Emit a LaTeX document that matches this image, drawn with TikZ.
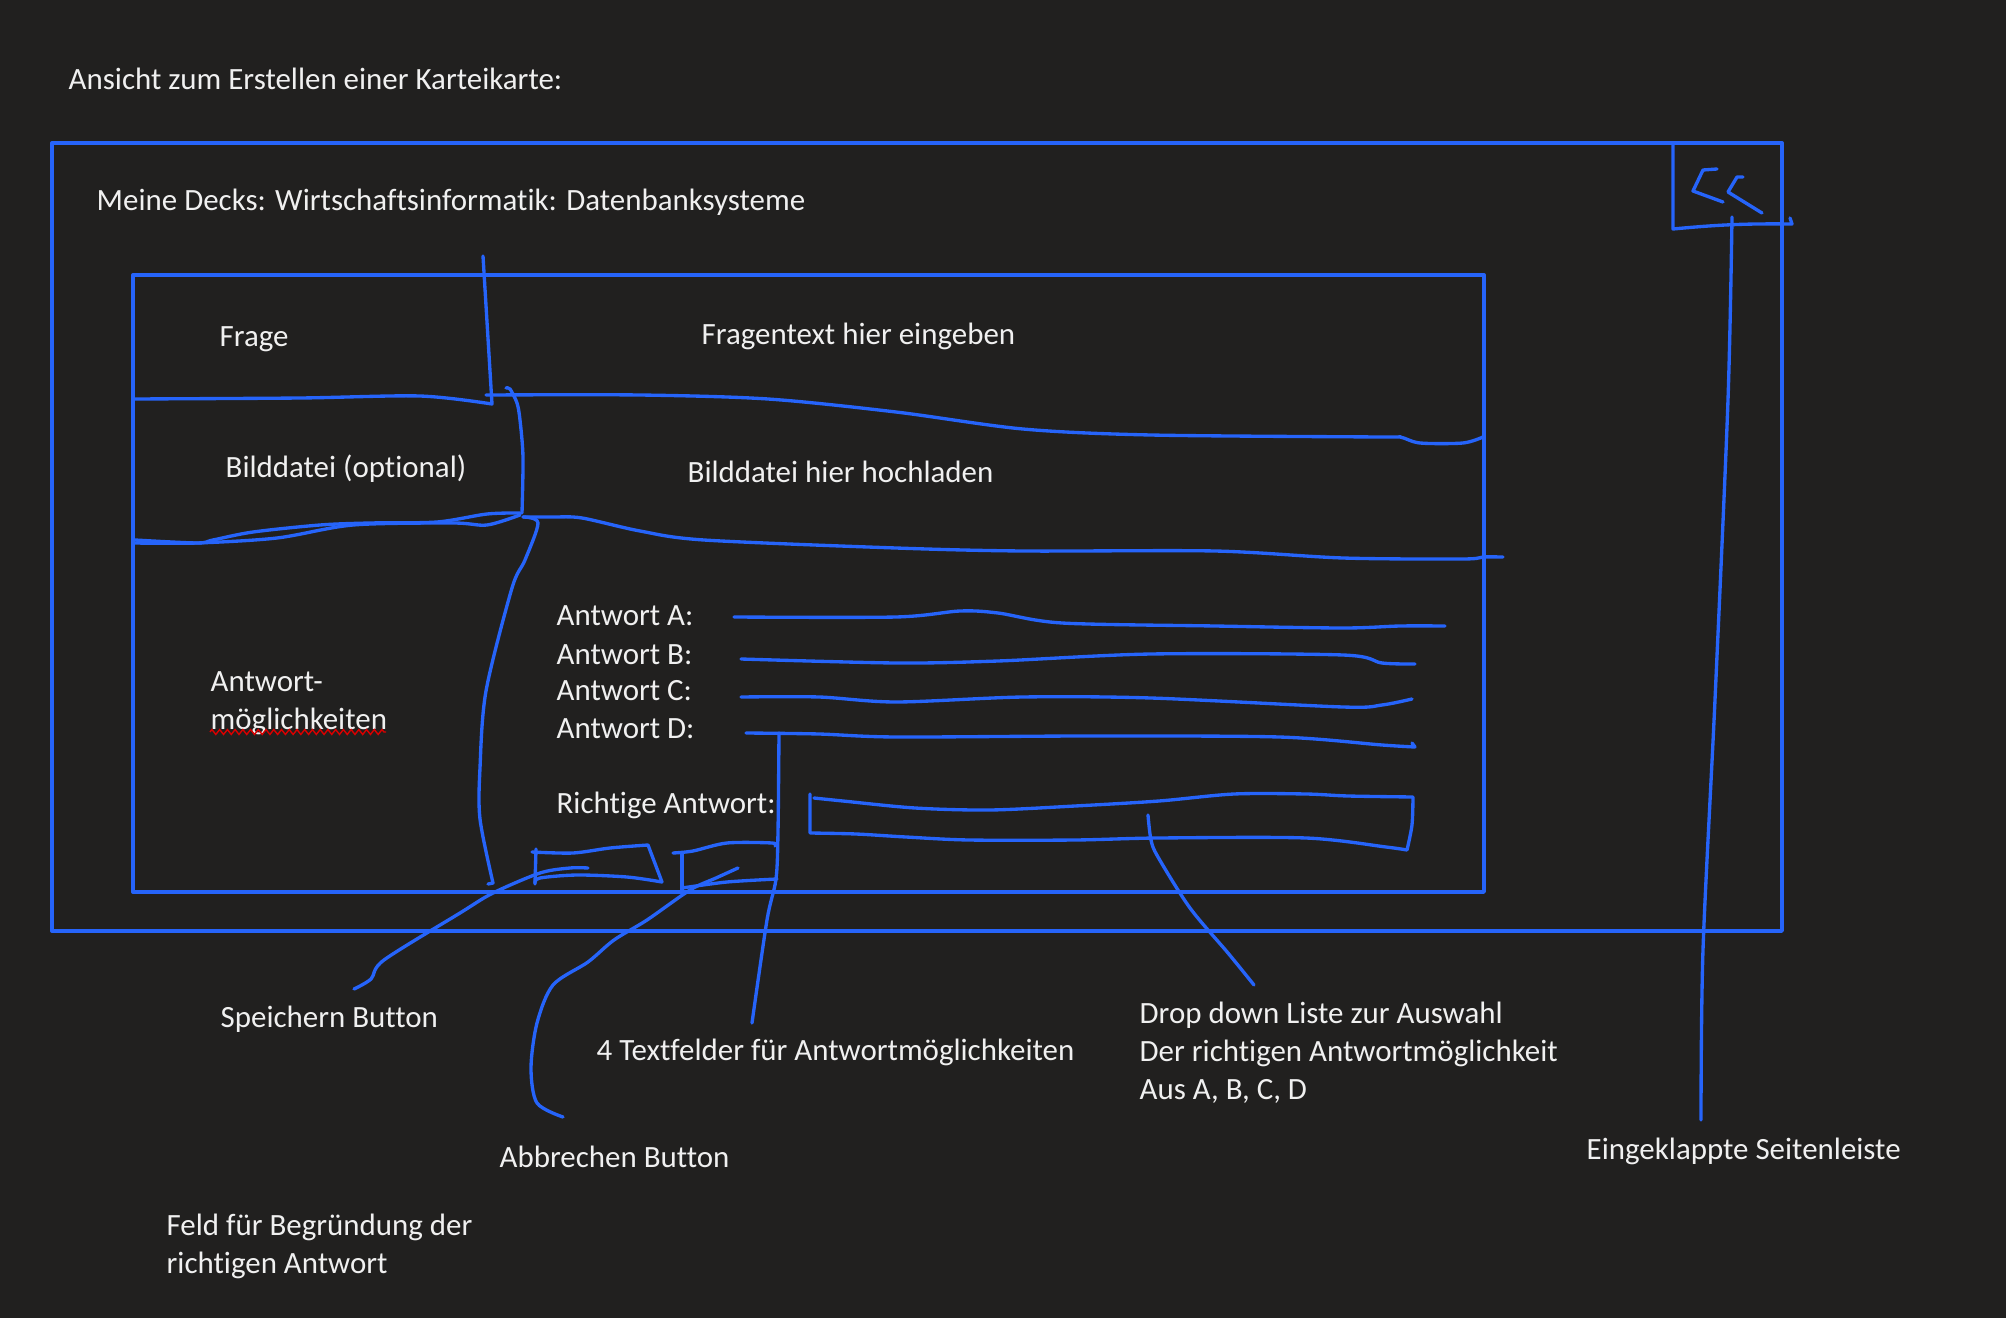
\documentclass[tikz,border=0pt]{standalone}
\usepackage{fontspec}
\setmainfont[Ligatures=NoCommon]{Carlito}
\usetikzlibrary{decorations.pathmorphing}
\definecolor{board}{RGB}{33,32,31}
\definecolor{penblue}{RGB}{38,100,250}
\definecolor{chalk}{RGB}{240,240,240}
\tikzstyle{pen} = [draw=penblue, line width=0.95pt, line cap=round, line join=round]
\tikzstyle{txt} = [text=chalk, anchor=base west, inner sep=0pt, align=left, font=\fontsize{8.8}{10.8}\selectfont]

\begin{document}
\begin{tikzpicture}[x=0.1mm, y=-0.1mm]

	% Background
	\fill[board] (0,0) rectangle (2006,1318);
	\useasboundingbox (0,0) rectangle (2006,1318);

	% Place nodes (multi-line ones sit on their last line)
	\node [txt] (Title)     at (68,89)    {Ansicht zum Erstellen einer Karteikarte:};
	\node [txt] (Path)      at (96,211)   {Meine Decks: Wirtschaftsinformatik: Datenbanksysteme};
	\node [txt] (Frage)     at (219,346)  {Frage};
	\node [txt] (FrageIn)   at (701,344)  {Fragentext hier eingeben};
	\node [txt] (Bild)      at (225,477)  {Bilddatei (optional)};
	\node [txt] (BildIn)    at (687,482)  {Bilddatei hier hochladen};
	\node [txt] (Antwort)   at (210,729)  {Antwort-\\möglichkeiten};
	\node [txt] (A)         at (556,625)  {Antwort A:};
	\node [txt] (B)         at (556,664)  {Antwort B:};
	\node [txt] (C)         at (556,700)  {Antwort C:};
	\node [txt] (D)         at (556,738)  {Antwort D:};
	\node [txt] (Richtig)   at (556,813)  {Richtige Antwort:};
	\node [txt] (Save)      at (220,1027) {Speichern Button};
	\node [txt] (Fields)    at (596,1060) {4 Textfelder für Antwortmöglichkeiten};
	\node [txt] (Drop)      at (1139,1099) {Drop down Liste zur Auswahl\\Der richtigen Antwortmöglichkeit\\Aus A, B, C, D};
	\node [txt] (Cancel)    at (499,1167) {Abbrechen Button};
	\node [txt] (Sidebar)   at (1586,1159) {Eingeklappte Seitenleiste};
	\node [txt] (Reason)    at (166,1273) {Feld für Begründung der\\richtigen Antwort};

	% spell check squiggle
	\draw[red!85!black, line width=0.4pt, decorate, decoration={zigzag, amplitude=0.7pt, segment length=2.2pt}]
		(210,732) -- (386,732);

	% Frames
	\path [pen] (52,143) rectangle (1782,931);
	\path [pen] (133,275) rectangle (1484,892);
	\path [pen] (1673,144) -- (1673,229) to[bend left=3] (1792,224) -- (1790,218);
	\path [pen] (1717,169) -- (1703,170) -- (1693,191) -- (1723,202);
	\path [pen] (1743,177) -- (1737,177) -- (1728,192) -- (1762,213);

	% Rows
	\path [pen] plot[smooth] coordinates {(133,399) (300,398) (420,396) (492,404)} -- (483,256);
	\path [pen] plot[smooth] coordinates {(486,395) (640,395) (768,399) (896,412) (1023,429) (1151,435) (1380,437) (1400,437) (1420,443) (1463,443) (1483,437)};
	\path [pen] plot[smooth] coordinates {(506,388) (510,389) (517,403) (520,420) (523,457) (522,513)};
	\path [pen] plot[smooth] coordinates {(135,540) (197,543) (213,540) (253,532) (320,525) (370,523) (437,522) (487,514) (520,513)};
	\path [pen] plot[smooth] coordinates {(135,543) (197,543) (277,538) (353,525) (453,523) (487,525) (520,515)};
	\path [pen] plot[smooth] coordinates {(523,517) (553,517) (582,518) (640,531) (704,540) (896,548) (1023,551) (1215,551) (1343,558) (1463,559) (1483,557) (1503,557)};
	\path [pen] plot[smooth] coordinates {(523,517) (538,523) (525,560) (512,588) (486,691) (480,768) (480,819) (493,883)} -- (488,884);

	% Answer fields
	\path [pen] plot[smooth] coordinates {(734,617) (896,617) (960,611) (998,613) (1062,623) (1215,626) (1343,628) (1400,626) (1445,626)};
	\path [pen] plot[smooth] coordinates {(741,659) (896,663) (998,661) (1151,654) (1343,655) (1382,663) (1415,664)};
	\path [pen] plot[smooth] coordinates {(741,697) (819,697) (896,702) (1023,697) (1151,698) (1343,707) (1382,705) (1412,699)};
	\path [pen] plot[smooth] coordinates {(746,733) (819,734) (896,737) (1087,736) (1279,737) (1382,745) (1415,747)} -- (1412,743);

	% Drop down
	\path [pen] (810,794) -- (810,833) plot[smooth] coordinates {(810,833) (856,834) (906,837) (969,840) (1075,840) (1159,838) (1306,838) (1386,847) (1407,850)}
		plot[smooth] coordinates {(1407,850) (1412,825) (1413,797)}
		plot[smooth] coordinates {(1413,797) (1348,796) (1306,794) (1234,794) (1159,801) (1075,806) (990,810) (915,808) (843,801) (814,798)};

	% Buttons
	\path [pen] (536,849) -- (535,884);
	\path [pen] plot[smooth] coordinates {(532,852) (573,853) (610,848) (648,845)} -- (662,882) plot[smooth] coordinates {(662,882) (627,877) (577,875) (540,878) (535,883)};
	\path [pen] (682,853) -- (682,890);
	\path [pen] plot[smooth] coordinates {(673,853) (693,851) (727,843) (772,843) (775,846)};
	\path [pen] plot[smooth] coordinates {(682,888) (727,882) (777,879)};

	%Draw pointers
	\path [pen] plot[smooth] coordinates {(779,733) (778,832) (776,879) (767,920) (752,1023)};
	\path [pen] plot[smooth] coordinates {(588,868) (570,868) (540,873) (493,893) (460,913) (384,960) (371,979) (354,989)};
	\path [pen] plot[smooth] coordinates {(738,868) (716,878) (690,890) (647,920) (614,940) (588,962) (553,985) (537,1023) (531,1068) (537,1103) (563,1117)};
	\path [pen] plot[smooth] coordinates {(1148,815) (1151,840) (1158,857) (1190,908) (1228,953) (1254,985)};
	\path [pen] plot[smooth] coordinates {(1732,217) (1728,400) (1715,700) (1703,950) (1701,1120)};

\end{tikzpicture}
\end{document}
